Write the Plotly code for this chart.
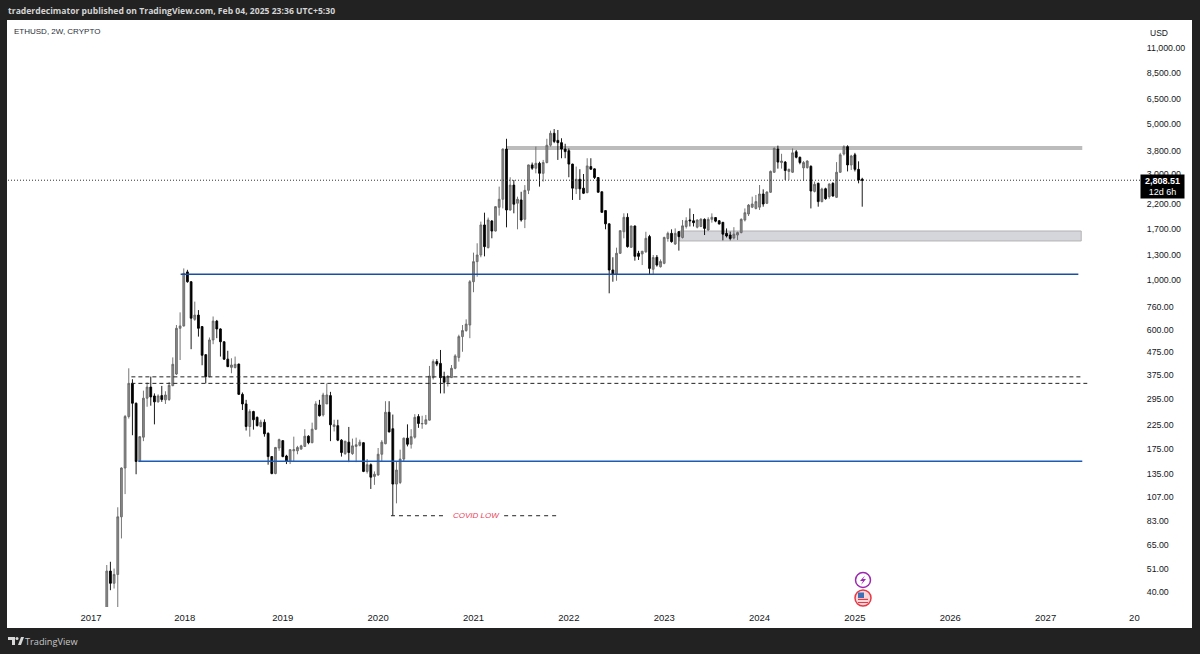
import pandas as pd
import numpy as np
import plotly.graph_objects as go

opens = [32,49.7,43.8,48,87,144,245,345,281,154,198,296,332,303,285,304,291,292,337,380,609,624,1090,985,668,698,620,464,370,540,656,605,530,443,407,406,421,308,279,221,258,243,221,231,206,162,136,177,191,163,
154,172,172,175,180,200,187,215,276,249,279,304,221,223,192,167,188,167,180,182,187,139,149,132,134,166,185,256,216,122,124,158,196,184,198,245,227,227,236,366,432,424,370,349,366,403,451,559,595,630,
985,1212,1298,1770,1400,1843,1662,2124,2307,3875,2065,2670,2215,2291,1876,2530,3289,3179,3344,3016,3370,4030,4559,4237,4140,3875,3810,3317,2570,2836,2587,2472,3233,3158,2887,2493,2053,1790,1112,1067,1321,1650,1915,1405,1751,1321,1312,1341,1570,1120,1268,
1150,1191,1539,1623,1454,1652,1555,1742,1863,1848,1730,1742,1875,1680,1875,1910,1848,1819,1623,1595,1547,1595,1636,1863,1982,2127,2099,2127,2436,2213,2480,3049,3873,3370,3386,3076,3049,3767,3560,3190,3200,3242,2503,2720,2252,2572,2370,2720,2354,3049,3680,3971,3287,3650,3142,2838]
highs = [52.9,54.7,51,96,145,249,403,360,283,200,320,348,370,311,308,336,318,350,451,630,718,1130,1114,990,802,735,622,466,554,688,664,609,532,483,447,455,423,314,291,264,260,245,237,238,208,163,179,195,192,165,
175,199,181,183,215,202,230,287,291,313,345,316,237,237,194,190,220,195,197,193,188,158,151,139,177,192,287,287,250,154,174,197,226,215,251,251,247,249,413,442,443,487,389,376,417,466,570,630,668,1002,
1330,1465,1832,2009,1910,1863,2150,2629,3900,4308,2896,2816,2370,2493,2670,3300,3370,3974,3400,3463,4308,4686,4763,4718,4330,4090,3900,3330,3233,3147,2995,3524,3524,3170,2900,2500,2060,1800,1268,1400,1675,1996,1996,1755,1760,1355,1350,1650,1598,1298,1298,
1240,1569,1652,1691,1708,1663,1863,1916,2099,1982,1875,1895,1895,1916,1995,1916,1863,1825,1708,1652,1730,1652,1895,2099,2197,2370,2411,2673,2556,2503,3104,3940,4014,3690,3424,3165,3900,3837,3582,3424,3450,3275,2770,2740,2600,2600,2720,2750,3386,3725,4029,4029,3650,3725,3413,2880]
lows = [30,40.8,41.5,33,69.6,110,240,202,135,153,190,271,274,226,283,285,279,288,335,376,439,620,975,491,658,559,416,345,367,517,550,455,439,408,383,403,306,262,212,199,214,221,219,199,149,135,135,172,161,150,
150,154,166,174,179,184,186,213,245,245,279,190,210,190,162,165,153,165,153,180,138,136,116,121,133,154,184,208,88,100,122,154,180,176,195,218,216,225,235,359,412,311,311,334,365,399,432,478,588,550,
884,1037,1268,1280,1390,1542,1655,1949,2100,1727,2050,1996,1692,1832,1713,2435,3125,3016,2629,2770,3344,3974,4119,3463,3524,3524,2896,2291,2435,2291,2435,2454,3125,2844,2470,2006,1692,874,985,995,1312,1542,1400,1400,1224,1233,1170,1328,1067,1067,1151,
1140,1180,1490,1474,1440,1358,1539,1706,1742,1742,1708,1730,1595,1668,1812,1820,1781,1510,1555,1510,1525,1516,1623,1835,1941,2107,2078,2066,2137,2197,2465,3030,3165,3165,2816,2816,3030,3520,3310,2790,3165,2099,2476,2137,2236,2297,2320,2370,2340,3030,3625,3076,3122,3076,2720,2137]
closes = [49.7,43.8,48,87,144,245,345,281,154,199,296,332,300,285,303,292,306,338,420,609,624,1074,985,676,698,609,461,370,540,656,605,530,443,410,417,420,308,279,221,258,237,223,231,205,162,136,178,193,162,154,
174,174,178,181,200,187,215,279,247,306,306,225,225,192,169,190,169,181,183,188,139,149,131,135,166,188,256,209,122,141,158,196,184,199,243,228,228,237,372,432,421,366,349,370,403,458,559,595,636,985,
1212,1298,1770,1415,1863,1662,2138,2307,3875,2065,2670,2192,2307,1863,2530,3289,3179,3344,3016,3370,4030,4559,4193,4140,3875,3773,3317,2587,2836,2570,2454,3255,3147,2887,2481,2016,1790,1112,1067,1321,1668,1915,1415,1751,1280,1280,1350,1542,1130,1264,1170,
1214,1555,1623,1490,1623,1569,1754,1848,1848,1812,1863,1880,1708,1875,1916,1841,1787,1610,1579,1539,1610,1636,1875,2008,2173,2197,2252,2436,2197,2487,3076,3900,3386,3424,3104,3142,3725,3560,3370,3370,3424,2512,2691,2252,2565,2320,2700,2386,3049,3652,3971,3287,3607,3142,2816,2808.51]

bar_dates = pd.date_range(end="2025-02-03", periods=len(closes), freq="14D")

price_ticks = [11000,8500,6500,5000,3800,3000,2200,1700,1300,1000,760,600,475,375,295,225,175,135,107,83,65,51,40]
year_ticks = ["2017-01-12","2018-01-05","2019-01-14","2020-01-13","2021-01-11","2022-01-10","2023-01-09","2024-01-08","2025-01-06","2026-01-05","2027-01-04","2027-12-09"]
year_labels = ["2017","2018","2019","2020","2021","2022","2023","2024","2025","2026","2027","20"]

resistance_band = [3838, 4000]
demand_band = [1500, 1663]
blue_upper = 1064
blue_lower = 154.6
dashed_upper = 369
dashed_lower = 345
covid_low = 88
last_price = 2808.51

DARK = "#222222"
TEXT = "#131722"
L, R, T, B = 8, 1142, 20, 607
px = lambda x: (x - L) / (R - L)
py = lambda y: (B - y) / (B - T)

fig = go.Figure()
fig.add_trace(go.Candlestick(
    x=bar_dates, open=opens, high=highs, low=lows, close=closes,
    whiskerwidth=0,
    increasing=dict(line=dict(color="#666666", width=0.9), fillcolor="#8c8c8c"),
    decreasing=dict(line=dict(color="#000000", width=0.9), fillcolor="#000000"),
    hoverinfo="skip"))

def hline(x0, x1, y, color, width, dash="solid"):
    fig.add_trace(go.Scatter(x=[x0, x1], y=[y, y], mode="lines", hoverinfo="skip",
                             line=dict(color=color, width=width, dash=dash)))

hline("2016-03-01", "2028-01-07", last_price, "#333333", 1, "1px,2px")
hline("2017-12-20", "2027-05-09", blue_upper, "#1a4ea3", 1.5)
hline("2017-07-12", "2027-05-24", blue_lower, "#1a5cb8", 1.5)
hline("2017-06-15", "2027-05-24", dashed_upper, "#222222", 1, "4px,3px")
hline("2017-06-15", "2027-06-12", dashed_lower, "#222222", 1, "4px,3px")
hline("2020-03-02", "2020-09-21", covid_low, "#222222", 1, "4px,4px")
hline("2021-05-08", "2021-11-27", covid_low, "#222222", 1, "4px,4px")

shapes = [
    dict(type="rect", xref="paper", yref="paper", x0=px(7), x1=px(1192), y0=py(628), y1=py(20),
         fillcolor="white", line_width=0, layer="below"),
    dict(type="rect", xref="x", yref="y", x0="2021-05-16", x1="2027-05-24",
         y0=resistance_band[0], y1=resistance_band[1], fillcolor="#bcbcbc", line_width=0, layer="below"),
    dict(type="rect", xref="x", yref="y", x0="2023-03-08", x1="2027-05-20",
         y0=demand_band[0], y1=demand_band[1], fillcolor="#d5d5dc",
         line=dict(color="#b4b4b4", width=1), layer="below"),
    # icons
    dict(type="circle", xref="paper", yref="paper", x0=px(855.5), x1=px(870.5), y0=py(587.5), y1=py(572.5),
         fillcolor="white", line=dict(color="#9c27b0", width=1.5)),
    dict(type="path", xref="paper", yref="paper", fillcolor="#9c27b0", line_width=0,
         path=f"M {px(865)} {py(575.5)} L {px(860)} {py(581)} L {px(863)} {py(581)} L {px(861)} {py(585)} L {px(866)} {py(579)} L {px(863)} {py(579)} Z"),
    dict(type="circle", xref="paper", yref="paper", x0=px(855), x1=px(871), y0=py(606), y1=py(590),
         fillcolor="#f7d8da", line=dict(color="#e53945", width=1.5)),
    dict(type="rect", xref="paper", yref="paper", x0=px(858), x1=px(868), y0=py(600), y1=py(598.8),
         fillcolor="#e53945", line_width=0),
    dict(type="rect", xref="paper", yref="paper", x0=px(858), x1=px(868), y0=py(603), y1=py(602),
         fillcolor="#e53945", line_width=0),
    dict(type="rect", xref="paper", yref="paper", x0=px(858), x1=px(864), y0=py(598), y1=py(592.5),
         fillcolor="#3f6fb5", line_width=0),
    # logo
    dict(type="path", xref="paper", yref="paper", fillcolor="#d8d8d8", line_width=0,
         path=f"M {px(8)} {py(637)} L {px(15)} {py(637)} L {px(15)} {py(645)} L {px(12)} {py(645)} L {px(12)} {py(640)} L {px(8)} {py(640)} Z"),
    dict(type="circle", xref="paper", yref="paper", x0=px(15.5), x1=px(18.5), y0=py(640), y1=py(637),
         fillcolor="#d8d8d8", line_width=0),
    dict(type="path", xref="paper", yref="paper", fillcolor="#d8d8d8", line_width=0,
         path=f"M {px(18)} {py(645)} L {px(21)} {py(637)} L {px(24)} {py(637)} L {px(21)} {py(645)} Z"),
]

notes = [
    dict(text="<b>traderdecimator published on TradingView.com, Feb 04, 2025 23:36 UTC+5:30</b>",
         x=px(7), y=py(11), xanchor="left", font=dict(size=8.6, color="#d4d4d4", family="Open Sans")),
    dict(text="ETHUSD, 2W, CRYPTO", x=px(13), y=py(31), xanchor="left",
         font=dict(size=8, color="#2a2e39", family="Liberation Sans")),
    dict(text="USD", x=px(1149), y=py(33), xanchor="left", font=dict(size=8.5, color=TEXT, family="Liberation Sans")),
    dict(text="<b>2,808.51</b><br>12d 6h", x=px(1162.5), y=py(186.5), xanchor="center", width=43, height=23, bgcolor="#000000",
         font=dict(size=9, color="white", family="Liberation Sans"), align="center"),
    dict(text="TradingView", x=px(24), y=py(641), xanchor="left", font=dict(size=9.2, color="#c8c8c8", family="Open Sans")),
    dict(text="COVID LOW", x=px(476), y=py(515), xanchor="center", font=dict(size=8, color="#ea3f5c", family="Liberation Sans", style="italic")),
]
for n in notes:
    fig.add_annotation(xref="paper", yref="paper", showarrow=False, borderpad=0, yanchor="middle", **n)

fig.update_layout(
    width=1200, height=654, autosize=False, showlegend=False,
    margin=dict(l=L, r=1200 - R, t=T, b=654 - B, pad=0),
    paper_bgcolor=DARK, plot_bgcolor="white", shapes=shapes,
    font=dict(family="Liberation Sans", color=TEXT, size=9),
    xaxis=dict(type="date", range=["2016-03-01", "2028-01-07"], rangeslider_visible=False,
               tickmode="array", tickvals=year_ticks, ticktext=year_labels, showgrid=False, zeroline=False,
               showline=False, ticks="outside", ticklen=2, tickcolor="white", tickfont=dict(size=9.5, color=TEXT)),
    yaxis=dict(type="log", side="right", range=[np.log10(34.3), np.log10(14680)],
               tickmode="array", tickvals=price_ticks, ticktext=[f"{v:,.2f}" for v in price_ticks],
               showgrid=False, zeroline=False, showline=False, ticks="outside", ticklen=2, tickcolor="white",
               tickfont=dict(size=8.8, color=TEXT)),
)
fig.write_html("out.html", config=dict(displayModeBar=False), post_script="document.body.style.margin='0';")
